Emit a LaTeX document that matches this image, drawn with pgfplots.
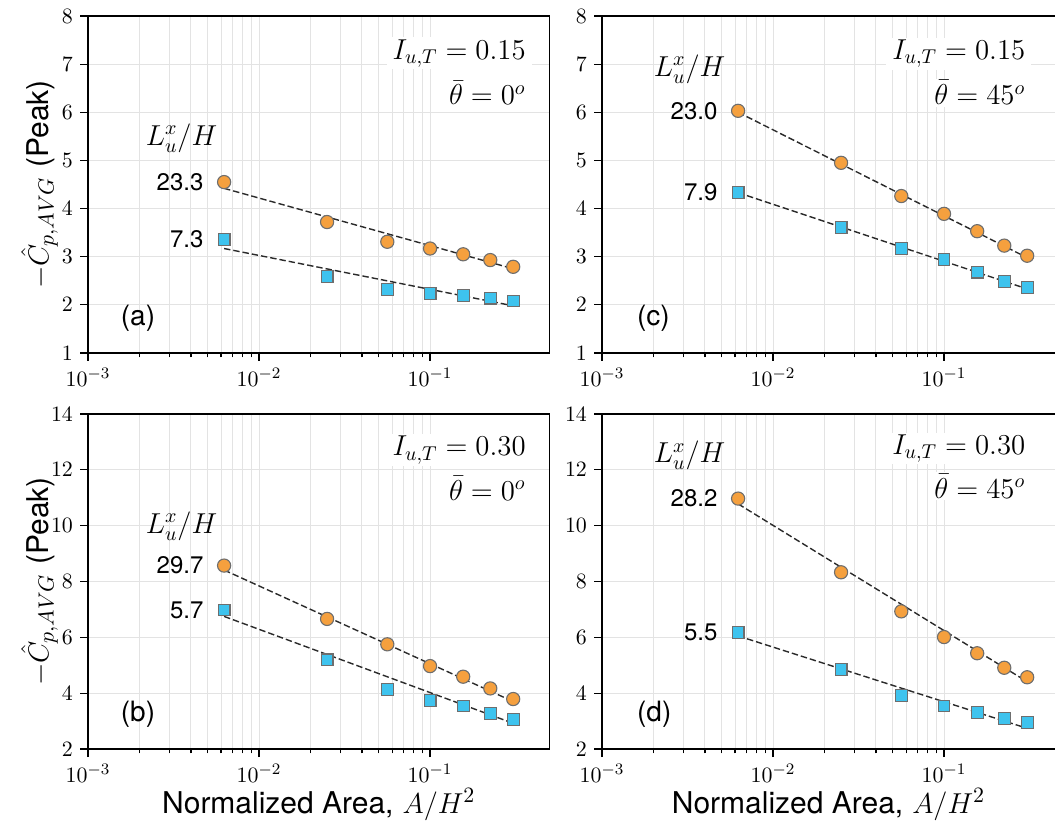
\documentclass[border=0pt]{standalone}
\usepackage{pgfplots}
\pgfplotsset{compat=1.18}
\usepackage{pgfplotstable}
\usepackage{fontspec}
\setsansfont{TeX Gyre Heros}

\definecolor{orangeM}{HTML}{F5A03E}
\definecolor{blueM}{HTML}{3EC3EE}
\definecolor{edgeM}{HTML}{6E6E6E}
\definecolor{gridM}{HTML}{E3E3E3}
\definecolor{fitM}{HTML}{2A2A2A}

% peak suction vs normalized area; o = large-scale flow, b = small-scale flow
\pgfplotstableread{
x        o     b
0.00625  4.55  3.36
0.025    3.72  2.59
0.05625  3.31  2.32
0.1      3.17  2.24
0.15625  3.05  2.20
0.225    2.93  2.14
0.30625  2.79  2.08
}\dataA
\pgfplotstableread{
x        o     b
0.00625  8.57  6.98
0.025    6.66  5.19
0.05625  5.75  4.14
0.1      4.97  3.73
0.15625  4.59  3.54
0.225    4.17  3.28
0.30625  3.79  3.06
}\dataB
\pgfplotstableread{
x        o     b
0.00625  6.03  4.34
0.025    4.95  3.60
0.05625  4.26  3.17
0.1      3.89  2.94
0.15625  3.53  2.68
0.225    3.23  2.48
0.30625  3.02  2.36
}\dataC
\pgfplotstableread{
x        o      b
0.00625  10.97  6.17
0.025    8.33   4.86
0.05625  6.93   3.92
0.1      6.01   3.54
0.15625  5.43   3.30
0.225    4.91   3.10
0.30625  4.57   2.94
}\dataD

\newcommand{\ttl}{\fontsize{14.5}{16}\selectfont}
\newcommand{\lbl}{\sffamily\fontsize{12}{14}\selectfont}
\newcommand{\pnl}{\sffamily\fontsize{14}{16}\selectfont}

\tikzset{
  mybox/.style={anchor=base east, xshift=3pt, fill=white, inner xsep=3pt, inner ysep=1pt, font=\ttl},
}

\pgfplotsset{
  mypanel/.style={
    scale only axis,
    xmin=1e-3,
    xtick={1e-3,1e-2,1e-1},
    grid=both,
    major grid style={gridM, line width=0.5pt},
    minor grid style={gridM, line width=0.5pt},
    axis line style={line width=0.9pt},
    tick style={black, line width=0.6pt},
    tick align=outside, tick pos=left,
    major tick length=4pt, minor tick length=2.2pt,
    ticklabel style={font=\fontsize{11}{13}\selectfont},
    xlabel style={font=\fontsize{15}{17}\selectfont, at={(axis description cs:0.5,-0.192)}, anchor=base},
    ylabel style={font=\fontsize{15}{17}\selectfont, at={(axis description cs:-0.0856,0.5)}, anchor=base},
  },
  % left column: full box up to A/H^2 = 0.5
  myleft/.style={width=230.8pt, xmax=0.5,
    ylabel={$-\hat{C}_{p,AVG}$ \textsf{(Peak)}}},
  % right column: runs to the page edge, right spine falls outside
  myright/.style={width=226.5pt, xmax=0.4455, axis y line*=left},
  myupper/.style={height=168.5pt, ymin=1, ymax=8, ytick={1,2,3,4,5,6,7,8}},
  mylower/.style={height=167.5pt, ymin=2, ymax=14, ytick={2,4,6,8,10,12,14},
    xlabel={\textsf{Normalized Area,} $A/H^2$}},
  myO/.style={only marks, mark=*, mark size=3.3pt,
    mark options={fill=orangeM, draw=edgeM, line width=0.55pt}},
  myB/.style={only marks, mark=square*, mark size=2.95pt,
    mark options={fill=blueM, draw=edgeM, line width=0.55pt}},
  myfit/.style={fitM, line width=0.7pt, dash pattern=on 3.2pt off 1.5pt},
}

\begin{document}
\begin{tikzpicture}
\useasboundingbox (0,0) rectangle (527.5pt,-411.5pt);
\clip (0,0) rectangle (527.5pt,-411.5pt);

% (a)
\begin{semilogxaxis}[mypanel, myleft, myupper, at={(44pt,-8pt)}, anchor=north west]
  \addplot[myO] table[x=x,y=o]{\dataA};
  \addplot[myB] table[x=x,y=b]{\dataA};
  \addplot[myfit] coordinates {(0.00625,4.42) (0.30625,2.75)};
  \addplot[myfit] coordinates {(0.00625,3.17) (0.30625,1.98)};
  \node[anchor=east, xshift=-6.8pt, font=\lbl] at (axis cs:0.00625,4.55) {23.3};
  \node[anchor=east, xshift=-6.8pt, font=\lbl] at (axis cs:0.00625,3.36) {7.3};
  \node[anchor=base west, font=\ttl] at (rel axis cs:0.110,0.617) {$L_u^x/H$};
  \node[mybox] at (rel axis cs:0.949,0.872) {$I_{u,T}=0.15$};
  \node[mybox] at (rel axis cs:0.949,0.737) {$\bar{\theta}=0^{o}$};
  \node[anchor=base west, font=\pnl] at (rel axis cs:0.056,0.083) {(a)};
\end{semilogxaxis}

% (c)
\begin{semilogxaxis}[mypanel, myright, myupper, at={(301pt,-8pt)}, anchor=north west]
  \addplot[myO] table[x=x,y=o]{\dataC};
  \addplot[myB] table[x=x,y=b]{\dataC};
  \addplot[myfit] coordinates {(0.00625,6.00) (0.30625,2.98)};
  \addplot[myfit] coordinates {(0.00625,4.33) (0.30625,2.33)};
  \node[anchor=east, xshift=-6.8pt, font=\lbl] at (axis cs:0.00625,6.03) {23.0};
  \node[anchor=east, xshift=-6.8pt, font=\lbl] at (axis cs:0.00625,4.34) {7.9};
  \node[anchor=base west, font=\ttl] at (axis cs:0.00183,6.75) {$L_u^x/H$};
  \node[mybox] at (axis cs:0.3,7.10) {$I_{u,T}=0.15$};
  \node[mybox] at (axis cs:0.3,6.16) {$\bar{\theta}=45^{o}$};
  \node[anchor=base west, font=\pnl] at (axis cs:0.00146,1.58) {(c)};
\end{semilogxaxis}

% (b)
\begin{semilogxaxis}[mypanel, myleft, mylower, at={(44pt,-207pt)}, anchor=north west]
  \addplot[myO] table[x=x,y=o]{\dataB};
  \addplot[myB] table[x=x,y=b]{\dataB};
  \addplot[myfit] coordinates {(0.00625,8.41) (0.30625,3.70)};
  \addplot[myfit] coordinates {(0.00625,6.75) (0.30625,2.92)};
  \node[anchor=east, xshift=-6.8pt, font=\lbl] at (axis cs:0.00625,8.57) {29.7};
  \node[anchor=east, xshift=-6.8pt, font=\lbl] at (axis cs:0.00625,6.98) {5.7};
  \node[anchor=base west, font=\ttl] at (rel axis cs:0.110,0.644) {$L_u^x/H$};
  \node[mybox] at (rel axis cs:0.949,0.875) {$I_{u,T}=0.30$};
  \node[mybox] at (rel axis cs:0.949,0.743) {$\bar{\theta}=0^{o}$};
  \node[anchor=base west, font=\pnl] at (rel axis cs:0.056,0.081) {(b)};
\end{semilogxaxis}

% (d)
\begin{semilogxaxis}[mypanel, myright, mylower, at={(301pt,-207pt)}, anchor=north west]
  \addplot[myO] table[x=x,y=o]{\dataD};
  \addplot[myB] table[x=x,y=b]{\dataD};
  \addplot[myfit] coordinates {(0.00625,10.78) (0.30625,4.41)};
  \addplot[myfit] coordinates {(0.00625,6.05) (0.30625,2.74)};
  \node[anchor=east, xshift=-6.8pt, font=\lbl] at (axis cs:0.00625,10.97) {28.2};
  \node[anchor=east, xshift=-6.8pt, font=\lbl] at (axis cs:0.00625,6.17) {5.5};
  \node[anchor=base west, font=\ttl] at (axis cs:0.00183,12.26) {$L_u^x/H$};
  \node[mybox] at (axis cs:0.3,12.56) {$I_{u,T}=0.30$};
  \node[mybox] at (axis cs:0.3,10.98) {$\bar{\theta}=45^{o}$};
  \node[anchor=base west, font=\pnl] at (axis cs:0.00146,2.97) {(d)};
\end{semilogxaxis}
\end{tikzpicture}
\end{document}
